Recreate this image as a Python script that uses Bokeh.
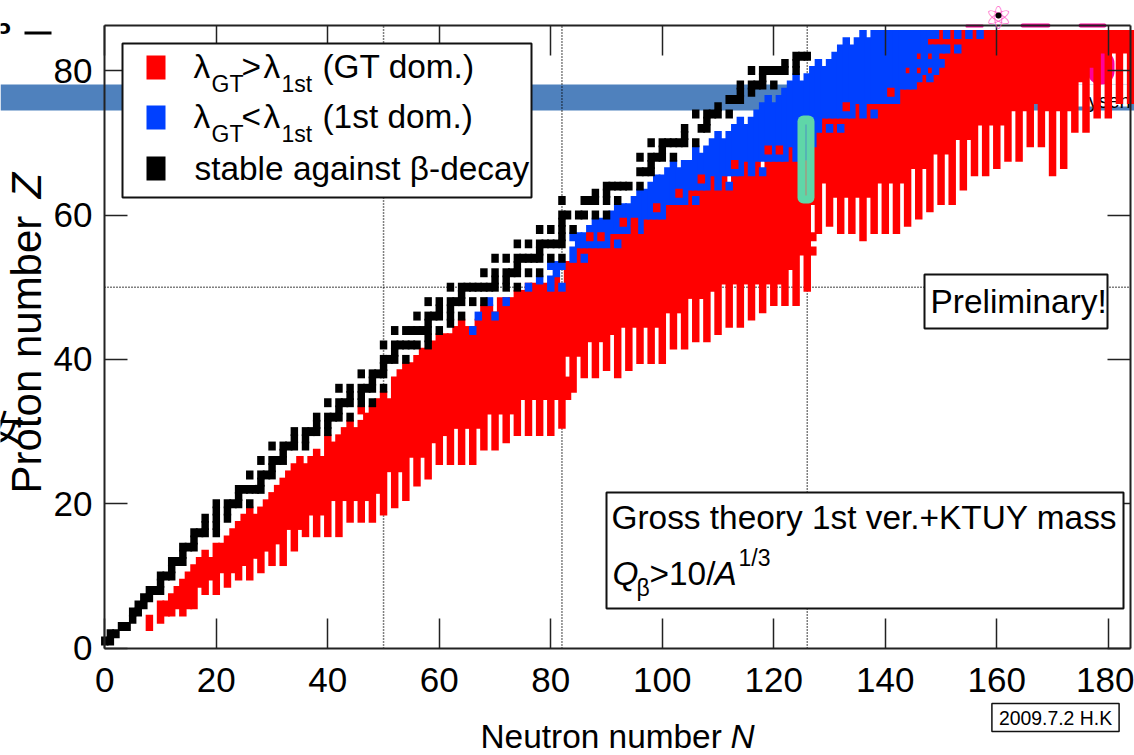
from bokeh.plotting import figure
from bokeh.models import Label, BoxAnnotation, LinearAxis, FixedTicker
from bokeh.embed import file_html
from bokeh.resources import INLINE

title_x = "Neutron number "
title_y = "Proton number "
x_ticks = [0, 20, 40, 60, 80, 100, 120, 140, 160, 180]
y_ticks = [0, 20, 40, 60, 80]
magic_n = [50, 82, 126]
magic_z = [50]

# red columns, N = 10..184
red_first_n = 10
red_lo = [4,5,5,6,5,6,6,9,8,10,8,11,9,11,10,12,10,13,11,14,12,15,12,17,14,17,16,19,16,19,16,21,16,21,18,21,18,21,18,22,
          19,25,20,25,21,27,23,27,24,29,26,30,26,31,26,31,26,31,28,33,28,33,29,33,30,35,30,35,30,35,30,35,31,41,36,41,38,43,38,43,
          39,44,38,45,39,45,40,45,40,45,40,47,42,47,42,49,43,49,43,50,44,51,45,51,45,51,46,51,47,51,48,51,48,53,48,55,50,62,58,65,
          59,63,58,63,58,63,57,63,58,65,58,65,58,65,59,67,60,67,61,69,62,69,62,71,64,71,66,73,66,73,67,73,68,75,68,75,70,76,70,75,
          66,75,67,75,72,79,72,81,74,83,74,83,76,83,76]
red_hi = [6,6,7,8,9,10,11,12,13,12,14,14,15,16,17,18,19,18,19,20,21,22,23,24,25,26,25,26,27,26,29,28,29,30,31,30,31,32,33,34,
          35,34,37,38,39,39,40,41,41,42,43,43,43,44,45,44,44,45,47,47,46,48,48,48,49,49,50,50,50,50,50,51,49,53,53,55,55,55,55,55,
          55,57,57,57,57,59,57,59,59,59,59,61,61,61,61,63,63,63,63,65,63,65,63,65,65,67,65,67,65,67,67,67,67,69,67,67,69,69,71,73,
          73,73,73,73,73,75,73,75,75,75,75,75,75,85,85,85,85,85,85,85,85,85,85,85,85,85,85,85,85,85,85,85,85,85,85,85,85,85,85,85,
          85,85,85,85,85,85,85,85,85,85,85,85,85,85,85]
red_extra_n = [8, 46, 83, 127, 127]
red_extra_lo = [3, 33, 35, 55, 57]
red_extra_hi = [4, 33, 37, 55, 57]
# blue (first-forbidden dominated) vertical runs
blue_n = [66,67,70,69,72,76,78,80,82,81,80,81,82,84,86,84,92,106,110,112,116,118,124,
          85,86,87,88,89,90,91,92,93,94,95,96,97,98,99,100,101,102,103,104,105,106,107,108,109,110,111,112,113,114,115,116,117,118,119,120,
          121,122,123,124,125,126,127,128,129,130,130,131,132,132,133,134,135,136,137,138,138,139,140,141,141,142,
          143,144,144,145,146,146,146,147,148,148,148,148,149,149,150,150,151,151,153,153,155,157]
blue_lo = [44,46,46,48,48,50,51,50,50,52,53,53,53,54,54,57,56,62,64,64,66,66,68,
           56,56,56,56,56,56,58,58,58,58,60,58,60,60,60,60,62,62,62,62,64,64,64,64,66,66,66,66,66,66,68,68,68,68,68,68,
           68,68,70,70,70,70,70,72,74,72,74,74,72,74,74,74,76,74,76,74,76,76,76,76,78,76,
           78,78,81,78,79,81,83,80,79,81,83,85,80,85,81,83,83,85,83,85,85,85]
blue_hi = [44,46,46,48,48,50,51,51,50,52,53,53,53,55,54,57,56,62,65,64,67,66,69,
           57,57,58,59,59,59,60,61,61,61,62,63,63,64,65,65,66,67,66,67,67,69,68,69,70,71,70,71,72,73,72,73,74,75,76,75,
           76,77,78,79,78,79,80,81,80,72,81,82,72,83,84,83,84,85,84,74,85,85,85,76,85,85,
           85,79,85,85,79,81,85,85,79,81,83,85,83,85,81,83,83,85,83,85,85,85]
spot_n = [87,89,93,95,95,99,103,107,113,119,121,133,141]
spot_z = [57,57,59,58,59,61,63,65,67,69,69,75,77]
# stable nuclei, row by row
stable_rows = {1:[0,1],2:[1,2],3:[3,4],4:[5],5:[5,6],6:[6,7],7:[7,8],8:[8,9,10],9:[10],10:[10,11,12],11:[12],12:[12,13,14],
 13:[14],14:[14,15,16],15:[16],16:[16,17,18,20],17:[18,20],18:[18,20,22],19:[20,22],20:[20,22,23,24,26],21:[24],
 22:[24,25,26,27,28],23:[28],24:[26,28,29,30],25:[30],26:[28,30,31,32],27:[32],28:[30,32,33,34,36],29:[34,36],
 30:[34,36,37,38,40],31:[38,40],32:[38,40,41,42,44],33:[42],34:[40,42,43,44,46,48],35:[44,46],36:[42,44,46,47,48,50],
 37:[48],38:[46,48,49,50],39:[50],40:[50,51,52,54],41:[52],42:[50,52,53,54,55,56,58],43:[58],44:[52,54,55,56,57,58,60],
 45:[58,62],46:[56,58,59,60,62,64],47:[60,62],48:[58,60,62,63,64,66,68],49:[64],50:[62,64,65,66,67,68,69,70,72,74],
 51:[70,72],52:[68,70,72,73,74,76,78],53:[74],54:[70,72,74,75,76,77,78,80,82],55:[78],56:[74,76,78,79,80,81,82],57:[82],
 58:[78,80,82,84],59:[82],60:[82,83,85,86,88,90],62:[82,86,87,88,90,92],63:[88,90],64:[90,91,92,93,94,96],66:[96,97,98],
 67:[98],68:[96,98,99,100,102],69:[100],70:[98,100,101,102,103,104,106],71:[104],72:[104,107,108],73:[108],
 74:[106,108,109,110,112],75:[110],76:[112,113,114],77:[114,116],78:[114,116,117,118,120],79:[118],
 80:[116,118,119,120,121,122,124],81:[122,124],82:[124,125,126]}

FONT = "Liberation Sans"
FS = 33.4
HW, HH = 0.67, 0.62
X0, SX, Y0, SY = 104.3, 5.575, 647.7, 7.22
def dx(px): return (px - X0) / SX
def dy(py): return (Y0 - py) / SY

# the frame fills the canvas, so that the fragments around the axes box are not clipped
p = figure(width=1134, height=755, output_backend="svg", toolbar_location=None,
           x_range=(dx(0), dx(1134)), y_range=(dy(755), dy(0)),
           min_border=0, background_fill_color="white", border_fill_color="white")
p.grid.visible = False
p.outline_line_color = None

def style(ax, ticks, tick_len, labels, loc, bounds):
    ax.ticker = FixedTicker(ticks=ticks)
    ax.fixed_location = loc
    ax.bounds = bounds
    ax.major_tick_in = tick_len
    ax.major_tick_out = 0
    ax.minor_tick_line_color = None
    ax.major_tick_line_color = "#222222"
    ax.major_tick_line_width = 1.5
    ax.axis_line_color = "#222222"
    ax.axis_line_width = 2
    if labels:
        ax.major_label_text_font = FONT
        ax.major_label_text_font_size = "35px"
        ax.major_label_text_color = "black"
    else:
        ax.major_label_text_font_size = "0px"
        ax.major_label_text_color = None

xb, yb = (dx(104), dx(1130)), (dy(648), dy(25))
style(p.xaxis[0], x_ticks, 30, True, dy(648), xb)
p.xaxis[0].major_label_standoff = 19
style(p.yaxis[0], y_ticks, 23, True, dx(104), yb)
p.yaxis[0].major_label_standoff = 12
top = LinearAxis(); style(top, x_ticks, 30, False, dy(25), xb); p.add_layout(top, "above")
right = LinearAxis(); style(right, y_ticks, 23, False, dx(1130), yb); p.add_layout(right, "right")

def box(l, t, r, b, fill="white", line=None, lw=2, level="annotation", radius=0):
    a = BoxAnnotation(left=dx(l), right=dx(r), top=dy(t), bottom=dy(b), fill_color=fill, fill_alpha=1,
                      line_color=line, line_alpha=1, line_width=lw, level=level, border_radius=radius, editable=False)
    p.add_layout(a)

def txt(s, px, py, size=FS, font=FONT, fstyle="normal", angle=0, color="black", level="annotation", align="left", baseline="alphabetic", **kw):
    p.add_layout(Label(x=dx(px), y=dy(py), text=s, text_font=font, text_font_size=f"{size}px", text_font_style=fstyle,
                       angle=angle, angle_units="deg", text_color=color, level=level, text_align=align, text_baseline=baseline, **kw))

# slide fragments behind the chart
box(0, 84, 1134, 110, fill="#4F81BD", level="underlay")
box(1062, 84, 1128, 106, fill="white", level="underlay")
box(1087, 50, 1114, 84, fill="#FF0099", level="underlay", radius=13)
txt("ysen", 1088, 100, size=20, level="underlay")
box(965, 24, 983, 27, fill="#FF0099", level="underlay", radius=1)
box(1020, 23, 1050, 27, fill="#FF0099", level="underlay", radius=2)
box(1078, 23, 1106, 27, fill="#FF0099", level="underlay", radius=2)

# dotted magic numbers
zs = [dy(648)] * len(magic_n)
p.segment(x0=magic_n, y0=zs, x1=magic_n, y1=[dy(25)] * len(magic_n), line_color="black", line_width=1.5, line_dash="1 2")
p.segment(x0=[dx(104)], y0=magic_z, x1=[dx(1130)], y1=magic_z, line_color="black", line_width=1.5, line_dash="1 2")

def cols(n, lo, hi, color):
    p.quad(left=[v - HW for v in n], right=[v + HW for v in n], bottom=[v - HH for v in lo], top=[v + HH for v in hi],
           fill_color=color, line_color=None)

red_n = [red_first_n + i for i in range(len(red_lo))]
cols(red_n, red_lo, red_hi, "#FF0000")
cols(red_extra_n, red_extra_lo, red_extra_hi, "#FF0000")
cols(blue_n, blue_lo, blue_hi, "#0040FF")
cols(spot_n, spot_z, spot_z, "#FF0000")
stable_n, stable_z = [], []
for z, ns in stable_rows.items():
    stable_n += ns
    stable_z += [z] * len(ns)
cols(stable_n, stable_z, stable_z, "#000000")

# green marker over N = 126
box(797, 115, 814, 203, fill="#5FD6A8", radius=6)
box(805, 124, 806, 160, fill="#4F8FC0")
box(805, 160, 806, 195, fill="#C07F70")

# legend
box(122, 43, 531, 197, line="#111111")
box(146, 55, 165, 79, fill="#FF0000")
box(146, 105, 165, 129, fill="#0040FF")
box(146, 156, 165, 180, fill="#000000")
for sym, tail, by in [(">", "(GT dom.)", 78), ("<", "(1st dom.)", 128)]:
    txt("λ", 193, by - 12)
    txt("GT", 211, by + 5, size=23)
    txt(sym, 241, by - 12)
    txt("λ", 263, by - 12)
    txt("1st", 281, by + 5, size=23)
    txt(tail, 322, by - 12)
txt("stable against β-decay", 194, 168)

# info boxes
box(924, 274, 1107, 328, line="#111111")
txt("Preliminary!", 930, 301)
box(606, 492, 1123, 608, line="#111111")
txt("Gross theory 1st ver.+KTUY mass", 611, 517)
txt("Q", 612, 573, fstyle="italic")
txt("β", 636, 587, size=23)
txt(">10/", 649, 573)
txt("A", 714, 573, fstyle="italic")
txt("1/3", 738, 557, size=23)
txt("2009.7.2 H.K", 1055, 717, size=19.4, align="center", baseline="middle", border_line_color="#111111",
    border_line_width=1.5, background_fill_color="white", padding=(7, 3))

# axis titles
txt(title_x, 480, 736)
txt("N", 730, 736, fstyle="italic")
txt(title_y, 26, 493, size=42, angle=90)
txt("Z", 26, 198, size=42, fstyle="italic", angle=90)

# atom icon and other fragments
txt("⚛", 998, 17, size=32, font="DejaVu Sans", color="#FF66CC", align="center", baseline="middle")
box(995, 12, 1001, 18, fill="#000000", radius=3)
box(24, 31, 51, 34, fill="#000000")
txt("ɔ", -1, 26, size=20, font="DejaVu Sans", fstyle="bold")
txt("女", -12, 425, size=36, font="Noto Sans CJK SC")

open("out.html", "w").write(file_html(p, INLINE))
